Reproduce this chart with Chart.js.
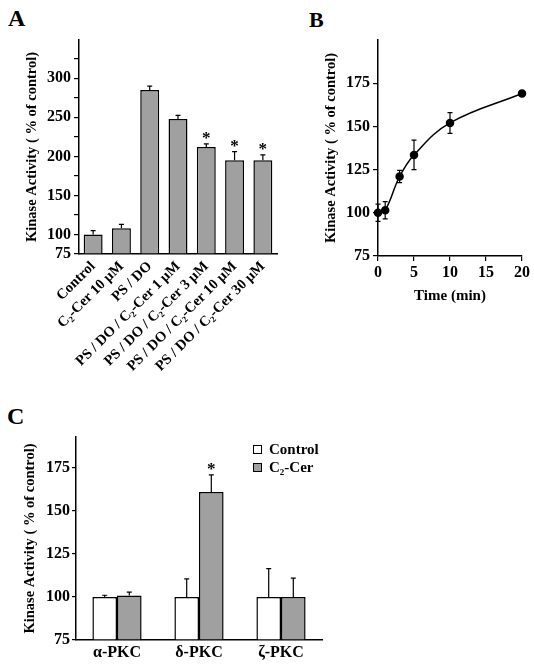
<!DOCTYPE html>
<html>
<head>
<meta charset="utf-8">
<script src="https://cdn.jsdelivr.net/npm/chart.js@4.4.1/dist/chart.umd.min.js"></script>
<style>
    body { margin: 0; background: #fff; width: 534px; height: 667px; position: relative; overflow: hidden; }
    canvas { position: absolute; }
    .panel { position: absolute; font: bold 24px 'Liberation Serif', 'Times New Roman', serif; line-height: 1; color: #000; }
</style>
</head>
<body>
<div class="panel" style="left:8px; top:6px;">A</div>
<div class="panel" style="left:309px; top:9px; font-size:22px;">B</div>
<div class="panel" style="left:7px; top:404px;">C</div>
<canvas id="chartA" width="300" height="380" style="left:0; top:0;"></canvas>
<canvas id="chartB" width="264" height="380" style="left:270px; top:0;"></canvas>
<canvas id="chartC" width="340" height="287" style="left:0; top:380px;"></canvas>
<script>
// panel A - kinase activity with PS/DO and ceramide
const catsA = ['Control', 'C\u2082-Cer 10 \u00b5M', 'PS / DO', 'PS / DO / C\u2082-Cer 1 \u00b5M',
    'PS / DO / C\u2082-Cer 3 \u00b5M', 'PS / DO / C\u2082-Cer 10 \u00b5M', 'PS / DO / C\u2082-Cer 30 \u00b5M'];
const valsA = [100, 108, 285, 248, 212, 195, 195];
const errA = [5, 5, 5, 4.5, 4, 11, 7];
const starsA = [false, false, false, false, true, true, true];
const ticksA = [75, 100, 150, 200, 250, 300];

// panel B - time course
const timeB = [0, 1, 3, 5, 10, 20];
const valsB = [100, 101.5, 121, 133.5, 152, 169];
const errB = [5, 5, 3.5, 8.5, 6, 1.5];
const xTicksB = [0, 5, 10, 15, 20];
const yTicksB = [75, 100, 125, 150, 175];

// panel C - PKC isoforms
const catsC = ['\u03b1-PKC', '\u03b4-PKC', '\u03b6-PKC'];
const ctrlC = [100, 100, 100];
const ctrlErrC = [1, 10.5, 16.5];
const cerC = [100.8, 161, 100];
const cerErrC = [2, 10, 11];
const starsC = [false, true, false];
const ticksC = [75, 100, 125, 150, 175];

const FONT = "'Liberation Serif', 'Times New Roman', serif";
Chart.defaults.font.family = FONT;
Chart.defaults.font.weight = 'bold';
Chart.defaults.font.size = 16;
Chart.defaults.color = '#000';
Chart.defaults.animation = false;
Chart.defaults.plugins.legend.display = false;
Chart.defaults.plugins.tooltip.enabled = false;

const TITLE = 'Kinase Activity ( % of control)';

// error bars (+ stars) drawn from the dataset's own errors array
const errorBars = {
    id: 'errorBars',
    afterDatasetsDraw(chart) {
        const ctx = chart.ctx;
        const yScale = chart.scales.y;
        chart.data.datasets.forEach((ds, i) => {
            if (!ds.errors) return;
            const meta = chart.getDatasetMeta(i);
            ctx.save();
            ctx.strokeStyle = '#000';
            ctx.lineWidth = 1.2;
            meta.data.forEach((el, j) => {
                const d = ds.data[j];
                const v = typeof d === 'object' ? d.y : d;
                const e = ds.errors[j];
                const top = yScale.getPixelForValue(v + e);
                const bottom = ds.bothSides ? yScale.getPixelForValue(v - e) : el.y;
                const cap = ds.capWidth || 5;
                ctx.beginPath();
                ctx.moveTo(el.x, bottom);
                ctx.lineTo(el.x, top);
                ctx.moveTo(el.x - cap / 2, top);
                ctx.lineTo(el.x + cap / 2, top);
                if (ds.bothSides) {
                    ctx.moveTo(el.x - cap / 2, bottom);
                    ctx.lineTo(el.x + cap / 2, bottom);
                }
                ctx.stroke();
                if (ds.stars && ds.stars[j]) {
                    ctx.fillStyle = '#000';
                    ctx.font = 'bold 17px ' + FONT;
                    ctx.textAlign = 'center';
                    ctx.textBaseline = 'alphabetic';
                    ctx.fillText('*', el.x, top - 1);
                }
            });
            ctx.restore();
        });
    }
};

// small boxed legend inside the plot area (panel C)
const boxLegend = {
    id: 'boxLegend',
    afterDraw(chart, args, opts) {
        if (!opts.show) return;
        const ctx = chart.ctx;
        const area = chart.chartArea;
        ctx.save();
        chart.data.datasets.forEach((ds, i) => {
            const x = area.right + opts.dx;
            const y = area.top + opts.dy + i * opts.gap;
            ctx.fillStyle = ds.backgroundColor;
            ctx.fillRect(x, y - 4, 8, 8);
            ctx.strokeStyle = '#000';
            ctx.lineWidth = 1;
            ctx.strokeRect(x + 0.5, y - 3.5, 8, 8);
            ctx.fillStyle = '#000';
            ctx.font = 'bold 15px ' + FONT;
            ctx.textAlign = 'left';
            ctx.textBaseline = 'middle';
            ctx.fillText(ds.label, x + 16, y + 1);
        });
        ctx.restore();
    }
};

function yAxis(min, max, shown, width, tl, pad) {
    return {
        min: min,
        max: max,
        afterBuildTicks: s => { s.ticks = s.ticks.filter(t => t.value <= shown[shown.length - 1] + 25 && t.value < max); },
        afterFit: s => { s.width = width; },
        ticks: {
            stepSize: 25,
            autoSkip: false,
            padding: pad,
            callback: v => shown.includes(v) ? v : ''
        },
        grid: { drawOnChartArea: false, color: '#000', tickLength: tl, lineWidth: 1.2 },
        border: { color: '#000', width: 1.5 },
        title: { display: true, text: TITLE, padding: 0, font: { size: 14.5, weight: 'bold' } }
    };
}

new Chart(document.getElementById('chartA'), {
    type: 'bar',
    data: {
        labels: catsA,
        datasets: [{
            data: valsA,
            errors: errA,
            stars: starsA,
            base: 75,
            backgroundColor: '#a0a0a0',
            borderColor: '#000',
            borderWidth: 1.5,
            categoryPercentage: 1,
            barPercentage: 0.67
        }]
    },
    options: {
        responsive: false,
        devicePixelRatio: 1,
        layout: { padding: { left: 24, top: 40, right: 23, bottom: 0 } },
        scales: {
            x: {
                afterFit: s => { s.height = 126; },
                ticks: { autoSkip: false, minRotation: 45, maxRotation: 45, padding: 4, font: { size: 14.5 } },
                grid: { display: false, drawTicks: false },
                border: { color: '#000', width: 1.5 }
            },
            y: yAxis(75, 349, ticksA, 55, 5, 3)
        }
    },
    plugins: [errorBars]
});

new Chart(document.getElementById('chartB'), {
    type: 'line',
    data: {
        datasets: [{
            data: timeB.map((t, i) => ({ x: t, y: valsB[i] })),
            errors: errB,
            bothSides: true,
            capWidth: 5,
            borderColor: '#000',
            borderWidth: 1.5,
            pointRadius: 3.5,
            pointBackgroundColor: '#000',
            pointBorderColor: '#000',
            tension: 0.4,
            clip: false
        }]
    },
    options: {
        responsive: false,
        devicePixelRatio: 1,
        layout: { padding: { left: 53, top: 40, right: 12, bottom: 75 } },
        scales: {
            x: {
                type: 'linear',
                min: 0,
                max: 20,
                afterBuildTicks: s => { s.ticks = xTicksB.map(v => ({ value: v })); },
                afterFit: s => { s.height = 49; },
                ticks: { padding: 2 },
                grid: { drawOnChartArea: false, color: '#000', tickLength: 5, lineWidth: 1.2 },
                border: { color: '#000', width: 1.5 },
                title: { display: true, text: 'Time (min)', padding: 0, font: { size: 15, weight: 'bold' } }
            },
            y: yAxis(75, 200, yTicksB, 55, 5, 3)
        }
    },
    plugins: [errorBars]
});

new Chart(document.getElementById('chartC'), {
    type: 'bar',
    data: {
        labels: catsC,
        datasets: [{
            label: 'Control',
            data: ctrlC,
            errors: ctrlErrC,
            base: 75,
            backgroundColor: '#ffffff',
            borderColor: '#000',
            borderWidth: 1.5,
            categoryPercentage: 0.6,
            barPercentage: 1
        }, {
            label: 'C\u2082-Cer',
            data: cerC,
            errors: cerErrC,
            stars: starsC,
            base: 75,
            backgroundColor: '#a0a0a0',
            borderColor: '#000',
            borderWidth: 1.5,
            categoryPercentage: 0.6,
            barPercentage: 1
        }]
    },
    options: {
        responsive: false,
        devicePixelRatio: 1,
        layout: { padding: { left: 22, top: 57, right: 18, bottom: 0 } },
        plugins: { boxLegend: { show: true, dx: -69, dy: 12, gap: 18 } },
        scales: {
            x: {
                afterFit: s => { s.height = 27; },
                ticks: { padding: 3 },
                grid: { display: false, drawTicks: false },
                border: { color: '#000', width: 1.5 }
            },
            y: yAxis(75, 193, ticksC, 54, 4, 2)
        }
    },
    plugins: [errorBars, boxLegend]
});
</script>
</body>
</html>
